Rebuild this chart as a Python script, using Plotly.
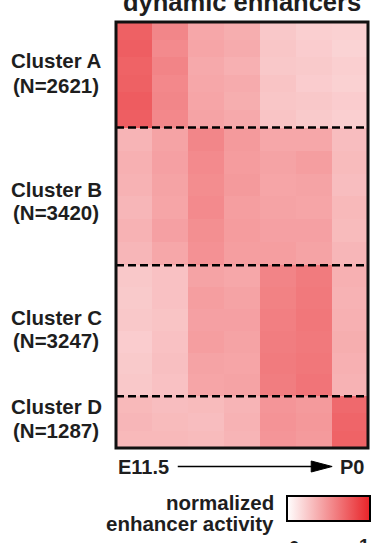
import plotly.graph_objects as go

# ---------------- data ----------------
stages = ["t1", "t2", "t3", "t4", "t5", "t6", "t7"]   # E11.5 -> P0 (7 time points)
cluster_names = ["Cluster A", "Cluster B", "Cluster C", "Cluster D"]
cluster_sizes = [2621, 3420, 3247, 1287]

cluster_a = [
    [0.72, 0.55, 0.40, 0.37, 0.25, 0.22, 0.21],
    [0.73, 0.53, 0.41, 0.38, 0.26, 0.23, 0.20],
    [0.71, 0.56, 0.39, 0.36, 0.25, 0.24, 0.22],
    [0.72, 0.54, 0.40, 0.38, 0.27, 0.23, 0.21],
    [0.74, 0.55, 0.41, 0.37, 0.26, 0.25, 0.23],
    [0.73, 0.54, 0.42, 0.39, 0.27, 0.24, 0.22],
]
cluster_b = [
    [0.34, 0.42, 0.55, 0.46, 0.40, 0.40, 0.30],
    [0.36, 0.43, 0.53, 0.45, 0.42, 0.44, 0.31],
    [0.35, 0.42, 0.52, 0.46, 0.41, 0.42, 0.30],
    [0.33, 0.41, 0.53, 0.44, 0.42, 0.41, 0.32],
    [0.35, 0.43, 0.51, 0.45, 0.43, 0.43, 0.31],
    [0.33, 0.40, 0.50, 0.44, 0.44, 0.42, 0.33],
]
cluster_c = [
    [0.25, 0.28, 0.42, 0.40, 0.56, 0.60, 0.36],
    [0.24, 0.28, 0.44, 0.42, 0.57, 0.61, 0.35],
    [0.25, 0.27, 0.43, 0.43, 0.58, 0.62, 0.36],
    [0.23, 0.28, 0.44, 0.42, 0.59, 0.61, 0.37],
    [0.24, 0.29, 0.42, 0.41, 0.60, 0.62, 0.36],
    [0.25, 0.28, 0.41, 0.42, 0.59, 0.63, 0.35],
]
cluster_d = [
    [0.32, 0.30, 0.31, 0.34, 0.48, 0.46, 0.68],
    [0.33, 0.31, 0.30, 0.35, 0.49, 0.47, 0.70],
    [0.32, 0.32, 0.31, 0.34, 0.48, 0.46, 0.71],
]
clusters = [cluster_a, cluster_b, cluster_c, cluster_d]

title_text = "dynamic enhancers"
start_label = "E11.5"
end_label = "P0"
cbar_title = ["normalized", "enhancer activity"]
cbar_ticks = ["0", "1"]

# ---------------- build grid ----------------
z = []
y_edges = [0.0]
boundaries = []
pos = 0.0
for rows, n in zip(clusters, cluster_sizes):
    h = n / len(rows)
    for r in rows:
        z.append(r)
        pos += h
        y_edges.append(pos)
    boundaries.append(pos)
total = pos
x_edges = [i - 0.5 for i in range(len(stages) + 1)]

W, H = 371, 543
L, R, T, B = 116, 2, 22, 95
PW, PH = W - L - R, H - T - B


def px(xp):
    return (xp - L) / PW


def py(yp):
    return (H - B - yp) / PH


RED = "#e82328"
colorscale = [[0.0, "#ffffff"], [1.0, RED]]
FONT = "Liberation Sans, Arial, Helvetica, sans-serif"
INK = "#1e1e1e"

fig = go.Figure()
fig.add_trace(go.Heatmap(
    z=z, x=x_edges, y=y_edges,
    zmin=0, zmax=1, colorscale=colorscale,
    showscale=True,
    colorbar=dict(
        orientation="h",
        thickness=25, thicknessmode="pixels",
        len=83, lenmode="pixels",
        x=px(328.5), xanchor="center",
        y=py(496), yanchor="top",
        xpad=0, ypad=0,
        outlinewidth=2, outlinecolor="black",
        showticklabels=False, ticks="",
    ),
    hoverinfo="skip",
))

shapes = []
# dashed separators between clusters
for b in boundaries[:-1]:
    shapes.append(dict(type="line", xref="paper", yref="y", x0=0, x1=1, y0=b, y1=b,
                       line=dict(color="black", width=2.5, dash="8px,4px")))
# frame
shapes.append(dict(type="rect", xref="paper", yref="paper", x0=0, x1=1, y0=0, y1=1,
                   line=dict(color="#111111", width=3)))
# arrow line + head
shapes.append(dict(type="line", xref="paper", yref="paper", x0=px(178), x1=px(316),
                   y0=py(466.5), y1=py(466.5), line=dict(color="black", width=1.6)))
shapes.append(dict(type="path", xref="paper", yref="paper",
                   path=f"M {px(312)} {py(461)} L {px(333)} {py(466.5)} L {px(312)} {py(472)} Z",
                   fillcolor="black", line=dict(color="black", width=1)))

annotations = []
label_centres = [(61, 86), (189, 212), (317, 340), (406, 430)]
for name, n, (y1, y2) in zip(cluster_names, cluster_sizes, label_centres):
    annotations.append(dict(text=f"<b>{name}</b>", x=px(56), y=py(y1), xref="paper", yref="paper",
                            xanchor="center", yanchor="middle", showarrow=False,
                            font=dict(size=20.5, family=FONT, color=INK)))
    annotations.append(dict(text=f"<b>(N={n})</b>", x=px(56), y=py(y2), xref="paper", yref="paper",
                            xanchor="center", yanchor="middle", showarrow=False,
                            font=dict(size=20.5, family=FONT, color=INK)))

annotations.append(dict(text=f"<b>{title_text}</b>", x=px(242.5), y=py(2), xref="paper", yref="paper",
                        xanchor="center", yanchor="middle", showarrow=False,
                        font=dict(size=25.5, family=FONT, color=INK)))
annotations.append(dict(text=f"<b>{start_label}</b>", x=px(116), y=py(467), xref="paper", yref="paper",
                        xanchor="left", yanchor="middle", showarrow=False,
                        font=dict(size=20, family=FONT, color=INK)))
annotations.append(dict(text=f"<b>{end_label}</b>", x=px(339), y=py(467), xref="paper", yref="paper",
                        xanchor="left", yanchor="middle", showarrow=False,
                        font=dict(size=20, family=FONT, color=INK)))
annotations.append(dict(text=f"<b>{cbar_title[0]}</b>", x=px(277), y=py(502), xref="paper", yref="paper",
                        xanchor="right", yanchor="middle", showarrow=False,
                        font=dict(size=20.5, family=FONT, color=INK)))
annotations.append(dict(text=f"<b>{cbar_title[1]}</b>", x=px(277), y=py(523), xref="paper", yref="paper",
                        xanchor="right", yanchor="middle", showarrow=False,
                        font=dict(size=20.5, family=FONT, color=INK)))
annotations.append(dict(text=f"<b>{cbar_ticks[0]}</b>", x=px(295), y=py(547), xref="paper", yref="paper",
                        xanchor="center", yanchor="middle", showarrow=False,
                        font=dict(size=19, family=FONT, color=INK)))
annotations.append(dict(text=f"<b>{cbar_ticks[1]}</b>", x=px(365), y=py(545), xref="paper", yref="paper",
                        xanchor="center", yanchor="middle", showarrow=False,
                        font=dict(size=19, family=FONT, color=INK)))

fig.update_layout(
    width=W, height=H,
    margin=dict(l=L, r=R, t=T, b=B, pad=0),
    paper_bgcolor="white", plot_bgcolor="white",
    xaxis=dict(visible=False, range=[x_edges[0], x_edges[-1]], fixedrange=True),
    yaxis=dict(visible=False, range=[total, 0], fixedrange=True),
    shapes=shapes, annotations=annotations,
    showlegend=False,
)

fig.write_html(
    "out.html",
    config={"displayModeBar": False},
    post_script="document.body.style.margin='0px';document.body.style.overflow='hidden';",
)
